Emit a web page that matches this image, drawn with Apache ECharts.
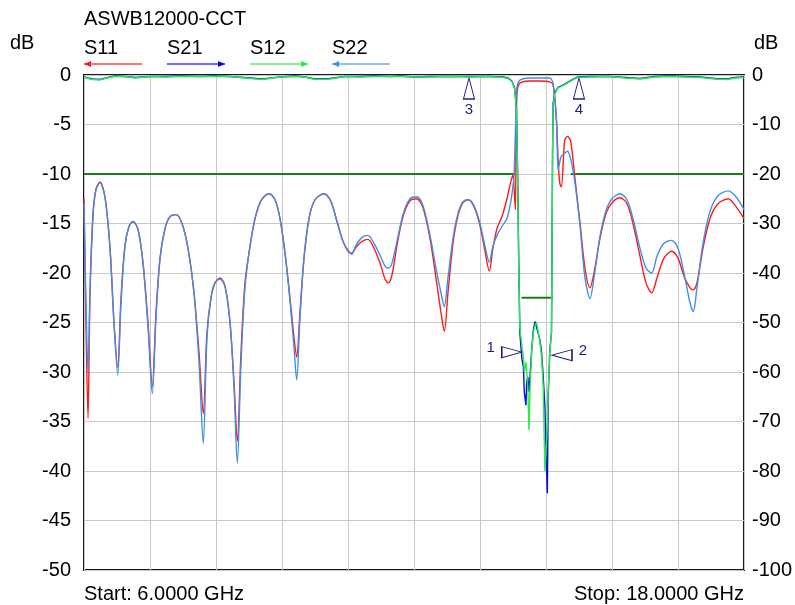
<!DOCTYPE html>
<html>
<head>
    <title>ASWB12000-CCT</title>
    <meta charset="utf-8" />
    <script src="https://cdn.jsdelivr.net/npm/echarts@6/dist/echarts.min.js"></script>
    <style>
        html, body { margin: 0; padding: 0; background: #fff; }
        #chart { width: 795px; height: 605px; }
    </style>
</head>
<body>
    <div id="chart"></div>
    <script>
        // 数据区域
        // ------------------------------------------------------
        // 反射 (S11 / S22) 频点, GHz, 左轴 dB
        var reflFreq = [
            6.000, 6.036, 6.073, 6.109, 6.164, 6.218, 6.291, 6.382, 6.473, 6.545,
            6.613, 6.673, 6.745, 6.818, 6.891, 6.982, 7.073, 7.164, 7.242, 7.309,
            7.382, 7.473, 7.564, 7.673, 7.782, 7.891, 8.000, 8.091, 8.169, 8.236,
            8.309, 8.382, 8.473, 8.564, 8.655, 8.727, 8.787, 8.855, 8.927, 9.018,
            9.109, 9.200, 9.291, 9.369, 9.473, 9.564, 9.655, 9.745, 9.818, 9.867,
            9.927, 10.000, 10.091, 10.200, 10.364, 10.491, 10.600, 10.709, 10.800, 10.867,
            10.945, 11.055, 11.164, 11.273, 11.382, 11.473, 11.533, 11.600, 11.691, 11.800,
            11.927, 12.049, 12.164, 12.291, 12.400, 12.491, 12.551, 12.618, 12.709, 12.800,
            12.891, 12.987, 13.091, 13.200, 13.291, 13.369, 13.436, 13.509, 13.600, 13.691,
            13.760, 13.800, 13.820, 13.845, 13.855, 13.865, 13.880, 13.930, 14.100, 14.290,
            14.470, 14.530, 14.590, 14.620, 14.650, 14.680, 14.740, 14.790, 14.850, 14.930,
            15.020, 15.109, 15.200, 15.273, 15.382, 15.491, 15.600, 15.745, 15.873, 15.982,
            16.109, 16.218, 16.322, 16.418, 16.545, 16.685, 16.800, 16.909, 17.018, 17.078,
            17.145, 17.255, 17.382, 17.527, 17.715, 17.855, 18.000
        ];
        var s11 = [
            -12.5, -25, -34.7, -22, -14, -11.5, -10.8, -12.3, -17.5, -25,
            -29.5, -22.5, -17.2, -15.3, -14.8, -15.6, -19, -25, -31.5, -24,
            -18.5, -15.5, -14.3, -14.1, -15, -17.5, -22, -28, -34.2, -26,
            -22.5, -21, -20.5, -21.3, -25, -31, -37, -28, -21, -17.3,
            -14.5, -12.9, -12.2, -12, -12.6, -14.5, -18, -22.5, -26.5, -28.5,
            -24, -18.5, -14.5, -12.6, -12, -12.8, -14.8, -16.8, -17.8, -18,
            -17.4, -16.8, -16.6, -17.5, -19, -20.6, -21, -20.2, -17.2, -14.3,
            -12.7, -12.5, -13.4, -16.5, -20.5, -24, -25.9, -22, -17, -14.2,
            -12.9, -12.6, -13.3, -15.2, -17.8, -19.8, -17.5, -15.5, -14.3, -12.5,
            -10.8, -10.1, -11.5, -13.6, -6.3, -3, -1.5, -0.8, -0.6, -0.6,
            -0.7, -1, -4.5, -8.5, -10.9, -11.3, -6.6, -6.2, -6.7, -10.6,
            -15, -19.5, -21.5, -20, -16.5, -14, -12.9, -12.4, -13, -15,
            -18.3, -21, -22, -20.5, -18.5, -17.8, -18.5, -20.3, -21.5, -21.7,
            -21, -17.5, -14.5, -13, -12.5, -13.3, -14.5
        ];
        var s22 = [
            -13, -23, -30, -22, -14.2, -11.6, -10.9, -12.4, -17.5, -25,
            -30.3, -23, -17.3, -15.3, -14.8, -15.6, -19, -25.5, -32.2, -24.5,
            -18.6, -15.5, -14.3, -14.1, -15, -17.5, -22, -29, -37.2, -26.5,
            -22.5, -21, -20.6, -21.4, -25, -31.5, -39.2, -29, -21.5, -17.3,
            -14.5, -12.9, -12.2, -12, -12.6, -14.5, -18, -22.8, -27.5, -30.8,
            -24.5, -18.5, -14.5, -12.6, -12, -12.8, -14.8, -16.8, -17.7, -18.1,
            -17.2, -16.4, -16.2, -17, -18.2, -19.3, -19.5, -19, -16.8, -14.1,
            -12.5, -12.3, -13.2, -16.2, -19.5, -22, -23.4, -20.5, -16.5, -14,
            -12.8, -12.6, -13.2, -15, -17.3, -18.9, -17.3, -16.2, -15.3, -14.5,
            -12.8, -11.2, -10.1, -5.5, -3.5, -1.7, -1, -0.5, -0.3, -0.3,
            -0.3, -0.9, -4.5, -9.6, -8.8, -8.2, -7.9, -7.7, -8.5, -11,
            -15.3, -20.5, -22.6, -20.5, -16.3, -13.7, -12.5, -12, -12.6, -14.5,
            -17.5, -19.5, -20, -18.3, -17, -16.7, -17.5, -20, -23, -23.9,
            -21.5, -17, -13.8, -12.2, -11.7, -12.3, -13.6
        ];

        // 传输 (S21 / S12) [GHz, dB], 右轴
        var s21 = [
            [6.00, -0.4], [6.07, -0.6], [6.16, -0.8], [6.29, -0.9], [6.44, -0.5], [6.56, -0.2], [6.75, -0.3], [6.93, -0.5], [7.20, -0.3], [7.47, -0.3],
            [7.75, -0.2], [8.11, -0.3], [8.38, -0.2], [8.65, -0.3], [9.02, -0.6], [9.24, -0.8], [9.56, -0.4], [9.84, -0.2], [10.02, -0.4], [10.20, -0.8],
            [10.47, -0.7], [10.75, -0.3], [11.02, -0.3], [11.29, -0.2], [11.56, -0.3], [11.75, -0.2], [12.02, -0.4], [12.29, -0.3], [12.65, -0.3], [13.02, -0.3],
            [13.38, -0.3], [13.62, -0.4], [13.71, -0.6], [13.78, -1.2], [13.83, -2.6], [13.865, -7], [13.885, -20], [13.905, -38], [13.925, -52], [13.945, -55],
            [13.965, -57.5], [13.99, -59], [14.005, -64], [14.035, -66.7], [14.05, -62], [14.07, -61], [14.09, -64], [14.115, -60], [14.14, -55.6], [14.17, -51.5],
            [14.20, -49.8], [14.23, -51], [14.26, -51.2], [14.29, -53.5], [14.32, -56], [14.35, -61], [14.38, -67], [14.405, -78], [14.425, -84.5], [14.44, -65],
            [14.47, -55.6], [14.50, -52], [14.51, -35], [14.52, -15], [14.53, -5.7], [14.56, -3.6], [14.62, -2.5], [14.68, -2.2], [14.78, -1.6], [14.87, -1.0],
            [14.98, -0.4], [15.20, -0.3], [15.56, -0.3], [15.84, -0.5], [16.11, -0.7], [16.38, -0.3], [16.65, -0.2], [16.93, -0.3], [17.20, -0.4], [17.47, -0.7],
            [17.69, -0.8], [17.84, -0.5], [18.00, -0.4]
        ];
        var s12 = [
            [6.00, -0.4], [6.07, -0.7], [6.16, -0.9], [6.29, -1.0], [6.44, -0.5], [6.56, -0.3], [6.75, -0.3], [6.93, -0.6], [7.20, -0.3], [7.47, -0.4],
            [7.75, -0.3], [8.11, -0.3], [8.38, -0.3], [8.65, -0.3], [9.02, -0.7], [9.24, -0.9], [9.56, -0.4], [9.84, -0.3], [10.02, -0.4], [10.20, -0.9],
            [10.47, -0.8], [10.75, -0.3], [11.02, -0.4], [11.29, -0.3], [11.56, -0.3], [11.75, -0.3], [12.02, -0.4], [12.29, -0.4], [12.65, -0.3], [13.02, -0.4],
            [13.38, -0.3], [13.62, -0.5], [13.71, -0.7], [13.78, -1.3], [13.83, -2.8], [13.865, -7.5], [13.885, -21], [13.905, -39], [13.925, -51], [13.945, -53],
            [13.965, -55], [13.99, -57], [14.005, -60], [14.035, -58], [14.05, -57.6], [14.07, -63], [14.09, -71.7], [14.115, -62], [14.14, -56], [14.17, -52],
            [14.20, -50.5], [14.23, -50], [14.26, -52], [14.29, -54], [14.32, -57], [14.35, -63], [14.38, -80], [14.405, -75], [14.425, -70], [14.44, -64],
            [14.47, -56], [14.50, -52], [14.51, -36], [14.52, -16], [14.53, -6], [14.56, -3.8], [14.62, -2.6], [14.68, -2.3], [14.78, -1.7], [14.87, -1.1],
            [14.98, -0.5], [15.20, -0.4], [15.56, -0.3], [15.84, -0.6], [16.11, -0.8], [16.38, -0.4], [16.65, -0.3], [16.93, -0.4], [17.20, -0.5], [17.47, -0.8],
            [17.69, -0.9], [17.84, -0.6], [18.00, -0.5]
        ];

        // 限制线
        var reflLimitSpans = [[6.0, 13.84], [14.85, 18.0]];
        var reflLimitLevel = -10;
        var transLimitSpan = [13.955, 14.52];
        var transLimitLevel = -45;

        // 标记 [编号, GHz, dB(右轴), 方向]
        var markers = [
            ['1', 13.96, -56, 'right'],
            ['2', 14.51, -56.6, 'left'],
            ['3', 13.0, -0.6, 'up'],
            ['4', 15.0, -0.6, 'up']
        ];

        // 轴范围
        var freqStart = 6, freqStop = 18, freqStep = 1.2;
        var leftMin = -50, leftStep = 5;
        var rightMin = -100, rightStep = 10;

        // ------------------------------------------------------
        var FONT = '"Liberation Sans", Arial, sans-serif';
        var NAVY = '#1f1f7a';
        var LIMIT = '#1a7f1a';

        function zip(xs, ys) {
            return xs.map(function (x, i) { return [x, ys[i]]; });
        }

        function markerItems() {
            var items = [];
            markers.forEach(function (m) {
                var tri = {
                    coord: [m[1], m[2]],
                    symbol: 'triangle',
                    itemStyle: { color: 'rgba(0,0,0,0)', borderColor: NAVY, borderWidth: 1.2 },
                    label: { show: false }
                };
                if (m[3] === 'up') {
                    tri.symbolSize = [11, 21];
                    tri.symbolOffset = [0, 10.5];
                    tri.label = { show: true, formatter: m[0], position: 'bottom', distance: 3,
                        color: NAVY, fontSize: 15, fontFamily: FONT };
                    items.push(tri);
                } else {
                    var dir = m[3] === 'right' ? -1 : 1;
                    tri.symbolSize = [11, 20];
                    tri.symbolRotate = dir === -1 ? -90 : 90;
                    tri.symbolOffset = [dir * 10, 0];
                    items.push(tri);
                    items.push({
                        coord: [m[1], m[2]],
                        symbol: 'circle',
                        symbolSize: 1,
                        itemStyle: { color: 'rgba(0,0,0,0)' },
                        label: { show: true, formatter: m[0], position: 'inside',
                            offset: [dir * 31, -4], color: NAVY, fontSize: 15, fontFamily: FONT }
                    });
                }
            });
            return items;
        }

        function trace(name, data, color, yAxisIndex, z) {
            return {
                name: name,
                type: 'line',
                yAxisIndex: yAxisIndex,
                data: data,
                showSymbol: false,
                smooth: 0.3,
                z: z,
                lineStyle: { color: color, width: 1.4 },
                itemStyle: { color: color }
            };
        }

        var series = [];
        reflLimitSpans.forEach(function (s) {
            series.push({
                type: 'line', yAxisIndex: 0, showSymbol: false, z: 1,
                data: [[s[0], reflLimitLevel], [s[1], reflLimitLevel]],
                lineStyle: { color: LIMIT, width: 2 }
            });
        });
        series.push({
            type: 'line', yAxisIndex: 1, showSymbol: false, z: 1,
            data: [[transLimitSpan[0], transLimitLevel], [transLimitSpan[1], transLimitLevel]],
            lineStyle: { color: LIMIT, width: 2 }
        });
        series.push(trace('S11', zip(reflFreq, s11), '#ff1a1a', 0, 2));
        series.push(trace('S22', zip(reflFreq, s22), '#3f8fe6', 0, 3));
        var s21Series = trace('S21', s21, '#0a0ae6', 1, 4);
        s21Series.smooth = false;
        series.push(s21Series);
        var s12Series = trace('S12', s12, '#22ee44', 1, 5);
        s12Series.smooth = false;
        s12Series.markPoint = { silent: true, animation: false, data: markerItems() };
        series.push(s12Series);

        // 图例 (文字 + 箭头)
        var legendDefs = [
            ['S11', 84, '#f07878', '#ff1a1a', 'left'],
            ['S21', 167, '#7070ee', '#0a0ae6', 'right'],
            ['S12', 250, '#88f088', '#22ee44', 'right'],
            ['S22', 332, '#90c4f0', '#3f8fe6', 'left']
        ];
        var graphics = [
            { type: 'text', left: 84, top: 9, style: { text: 'ASWB12000-CCT', font: '20px ' + FONT, fill: '#000' } },
            { type: 'text', left: 10, top: 33, style: { text: 'dB', font: '20px ' + FONT, fill: '#000' } },
            { type: 'text', left: 754, top: 33, style: { text: 'dB', font: '20px ' + FONT, fill: '#000' } },
            { type: 'text', left: 84, top: 584, style: { text: 'Start: 6.0000 GHz', font: '20px ' + FONT, fill: '#000' } },
            { type: 'text', right: 51, top: 584, style: { text: 'Stop: 18.0000 GHz', font: '20px ' + FONT, fill: '#000' } }
        ];
        legendDefs.forEach(function (d) {
            var x0 = d[1], x1 = d[1] + 58, y = 64;
            graphics.push({ type: 'text', left: x0, top: 38, style: { text: d[0], font: '20px ' + FONT, fill: '#000' } });
            graphics.push({ type: 'line', shape: { x1: x0, y1: y, x2: x1, y2: y }, style: { stroke: d[2], lineWidth: 2 } });
            var head = d[4] === 'left'
                ? [[x0, y], [x0 + 7, y - 3], [x0 + 7, y + 3]]
                : [[x1, y], [x1 - 7, y - 3], [x1 - 7, y + 3]];
            graphics.push({ type: 'polygon', shape: { points: head }, style: { fill: d[3] } });
        });

        var option = {
            animation: false,
            backgroundColor: '#fff',
            grid: {
                left: 84, right: 51, top: 75, bottom: 35,
                show: true, borderColor: '#1a1a1a', borderWidth: 2, backgroundColor: 'rgba(0,0,0,0)'
            },
            xAxis: {
                type: 'value', min: freqStart, max: freqStop, interval: freqStep,
                axisLine: { show: false }, axisTick: { show: false }, axisLabel: { show: false },
                splitLine: { show: true, lineStyle: { color: '#c8c8c8', width: 1 } }
            },
            yAxis: [
                {
                    type: 'value', min: leftMin, max: 0, interval: leftStep, position: 'left',
                    axisLine: { show: false }, axisTick: { show: false },
                    axisLabel: { color: '#000', fontSize: 20, fontFamily: FONT, margin: 13 },
                    splitLine: { show: true, lineStyle: { color: '#c8c8c8', width: 1 } }
                },
                {
                    type: 'value', min: rightMin, max: 0, interval: rightStep, position: 'right',
                    axisLine: { show: false }, axisTick: { show: false },
                    axisLabel: { color: '#000', fontSize: 20, fontFamily: FONT, margin: 8 },
                    splitLine: { show: false }
                }
            ],
            graphic: graphics,
            series: series
        };

        var chart = echarts.init(document.getElementById('chart'));
        chart.setOption(option);
    </script>
</body>
</html>
